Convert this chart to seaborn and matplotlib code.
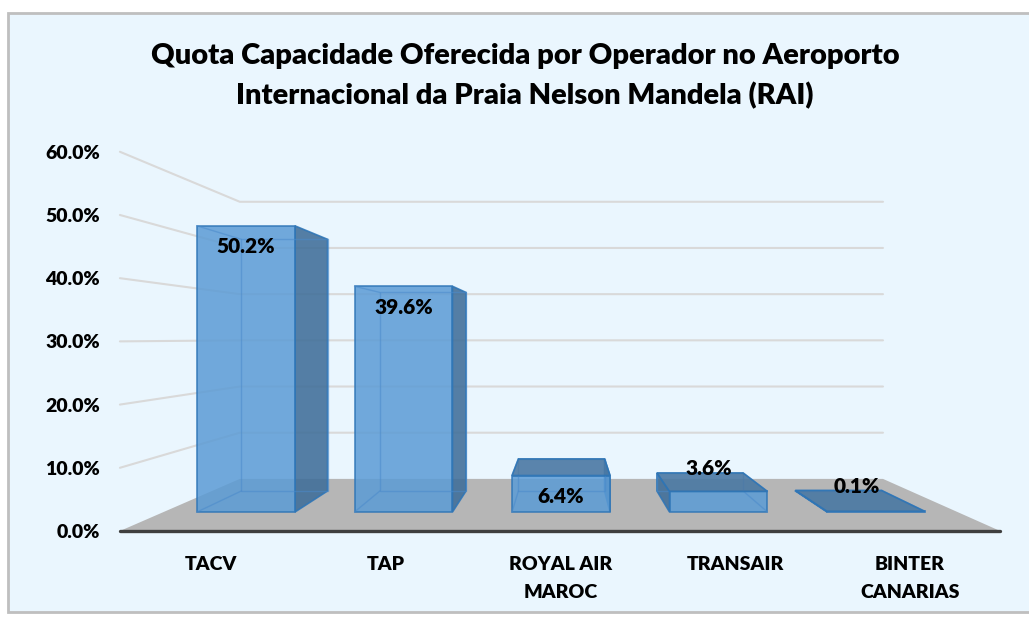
import pandas as pd
import matplotlib.pyplot as plt
import seaborn as sns
from matplotlib.patches import Polygon, Rectangle

# ---------------- Data ----------------
operators = ["TACV", "TAP", "ROYAL AIR\nMAROC", "TRANSAIR", "BINTER\nCANARIAS"]
shares = [50.2, 39.6, 6.4, 3.6, 0.1]
y_ticks = [0, 10, 20, 30, 40, 50, 60]
title = "Quota Capacidade Oferecida por Operador no Aeroporto\nInternacional da Praia Nelson Mandela (RAI)"

df = pd.DataFrame({"operator": operators, "share": shares})

# ---------------- 3D look (layout constants) ----------------
W, H = 1029, 621
PX0, PXS = 246.0, 157.5      # pixel x of first bar, pixels per category (bar front plane)
PY0, PYS = 512.0, 5.70       # pixel y of 0%, pixels per 1% (bar front plane)
VX, VY = 565.0, 337.5        # vanishing point in pixels
CX_V = (VX - PX0) / PXS
CY_V = (PY0 - VY) / PYS
R_FLOOR_FRONT = 1 / 0.9018
R_FLOOR_BACK = 0.7307 / 0.9018
R_BAR_BACK = 0.793 / 0.9018
HALF_W = 0.311
FLOOR_L, FLOOR_R = -0.523, 4.517
LABEL_W = "heavy"


def proj(x, y, r):
    return (CX_V + (x - CX_V) * r, CY_V + (y - CY_V) * r)


sns.set_style("white")
plt.rcParams["font.family"] = ["Lato", "DejaVu Sans"]
plt.rcParams["font.weight"] = "bold"
plt.rcParams["text.color"] = "black"
plt.rcParams["xtick.color"] = "black"
plt.rcParams["ytick.color"] = "black"

fig = plt.figure(figsize=(W / 100, H / 100), dpi=100)
fig.patch.set_facecolor("white")
fig.patches.append(Rectangle((8 / W, (H - 612) / H), 1.1, (612 - 13) / H,
                             transform=fig.transFigure, fc="#EAF6FE",
                             ec="#BFBFBF", lw=2, zorder=-5))

ax_l, ax_r, ax_b, ax_t = 104, 1010, 531, 140
ax = fig.add_axes([ax_l / W, (H - ax_b) / H, (ax_r - ax_l) / W, (ax_b - ax_t) / H])
ax.patch.set_visible(False)
ax.set_zorder(2)

# bars (front faces)
sns.barplot(data=df, x="operator", y="share", order=operators, width=2 * HALF_W,
            color="#5B9BD5", saturation=1, alpha=0.85, edgecolor="#2E75B6",
            linewidth=1.2, ax=ax, zorder=3)

ax.set_xlim((ax_l - PX0) / PXS, (ax_r - PX0) / PXS)
ax.set_ylim((PY0 - ax_b) / PYS, (PY0 - ax_t) / PYS)

# walls gridlines
for t in y_ticks[1:]:
    p1 = proj(FLOOR_L, t, R_FLOOR_FRONT)
    p2 = proj(FLOOR_L, t, R_FLOOR_BACK)
    p3 = proj(FLOOR_R, t, R_FLOOR_BACK)
    ax.plot([p1[0], p2[0], p3[0]], [p1[1], p2[1], p3[1]], color="#D9D9D9",
            lw=1.5, zorder=0.5, clip_on=False, solid_joinstyle="miter")

# floor
floor = [proj(FLOOR_L, 0, R_FLOOR_FRONT), proj(FLOOR_R, 0, R_FLOOR_FRONT),
         proj(FLOOR_R, 0, R_FLOOR_BACK), proj(FLOOR_L, 0, R_FLOOR_BACK)]
ax.add_patch(Polygon(floor, closed=True, fc="#B6B6B6", ec="none", zorder=1, clip_on=False))
ax.plot([floor[0][0], floor[1][0]], [floor[0][1], floor[1][1]], color="#3F3F3F",
        lw=2.4, zorder=1.5, clip_on=False, solid_capstyle="round")

# side, top faces and see-through edges
for i, v in enumerate(shares):
    far = i - HALF_W if i < CX_V else i + HALF_W
    near = i + HALF_W if i < CX_V else i - HALF_W
    side = [proj(near, 0, 1), proj(near, v, 1), proj(near, v, R_BAR_BACK), proj(near, 0, R_BAR_BACK)]
    ax.add_patch(Polygon(side, closed=True, fc="#3F6E99", alpha=0.88, ec="#2E75B6",
                         lw=1.2, zorder=2.5, clip_on=False))
    if v < CY_V:
        top = [proj(i - HALF_W, v, 1), proj(i + HALF_W, v, 1),
               proj(i + HALF_W, v, R_BAR_BACK), proj(i - HALF_W, v, R_BAR_BACK)]
        ax.add_patch(Polygon(top, closed=True, fc="#4A78A3", alpha=0.9, ec="#2E75B6",
                             lw=1.2, zorder=4, clip_on=False))
    back = [proj(i - HALF_W, 0, R_BAR_BACK), proj(i + HALF_W, 0, R_BAR_BACK),
            proj(i + HALF_W, v, R_BAR_BACK), proj(i - HALF_W, v, R_BAR_BACK)]
    ax.add_patch(Polygon(back, closed=True, fc="none", ec="#4A8ACB", alpha=0.55,
                         lw=1.0, zorder=3.5, clip_on=False))
    for yy in (0, v):
        a, b = proj(far, yy, 1), proj(far, yy, R_BAR_BACK)
        ax.plot([a[0], b[0]], [a[1], b[1]], color="#4A8ACB", alpha=0.55, lw=1.0,
                zorder=3.5, clip_on=False)

# data labels
for i, v in enumerate(shares):
    if v >= 5:
        ax.annotate(f"{v:.1f}%", (i, v), xytext=(0, -15), textcoords="offset points",
                    ha="center", va="center", fontsize=15, fontweight=LABEL_W, zorder=6)
    else:
        bx, by = proj(i, v, R_BAR_BACK)
        ax.annotate(f"{v:.1f}%", ((i + bx) / 2, by), xytext=(0, 3), textcoords="offset points",
                    ha="center", va="center", fontsize=15, fontweight=LABEL_W, zorder=6)

# axes ticks on the front plane of the floor
ax.set_yticks([proj(0, t, R_FLOOR_FRONT)[1] for t in y_ticks])
ax.set_yticklabels([f"{t:.1f}%" for t in y_ticks])
ax.set_xticks([proj(i, 0, R_FLOOR_FRONT)[0] for i in range(len(operators))])
ax.set_xticklabels(operators, linespacing=1.8)
ax.tick_params(axis="y", length=0, pad=3, labelsize=14)
ax.tick_params(axis="x", length=0, pad=18, labelsize=14)
for lab in ax.get_xticklabels() + ax.get_yticklabels():
    lab.set_fontweight(LABEL_W)
ax.set_xlabel("")
ax.set_ylabel("")
sns.despine(ax=ax, left=True, bottom=True)

fig.text(525 / W, 1 - 76 / H, title, ha="center", va="center", fontsize=21,
         fontweight="heavy", linespacing=1.6)

fig.savefig("out.png", dpi=100)
